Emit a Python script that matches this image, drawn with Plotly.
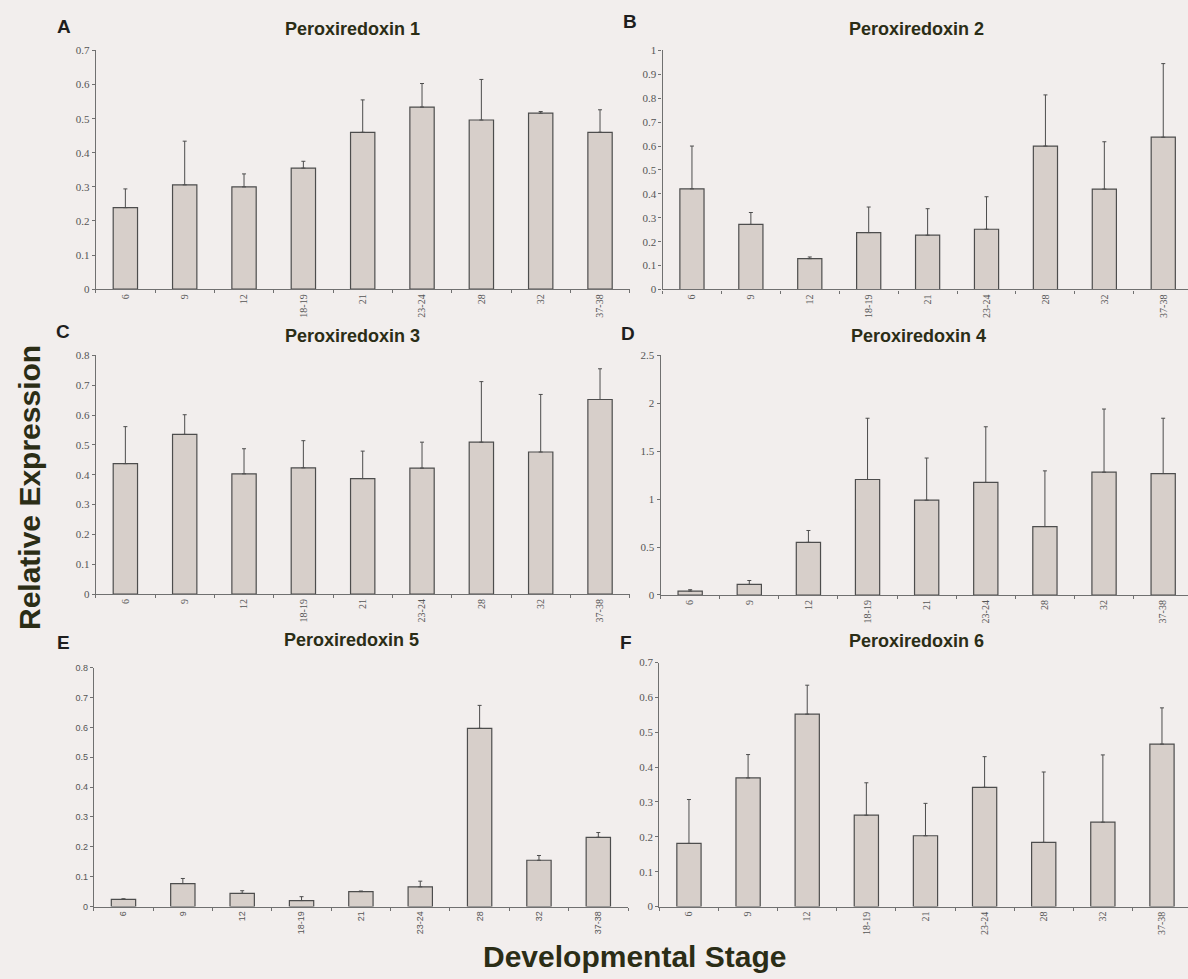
import plotly.graph_objects as go

stages = ["6", "9", "12", "18-19", "21", "23-24", "28", "32", "37-38"]

prx1_mean = [0.239, 0.306, 0.300, 0.355, 0.460, 0.534, 0.496, 0.516, 0.460]
prx1_err = [0.055, 0.128, 0.038, 0.020, 0.095, 0.069, 0.119, 0.005, 0.066]
prx2_mean = [0.421, 0.272, 0.129, 0.238, 0.227, 0.252, 0.600, 0.420, 0.637]
prx2_err = [0.179, 0.050, 0.007, 0.107, 0.111, 0.136, 0.214, 0.198, 0.308]
prx3_mean = [0.437, 0.535, 0.403, 0.423, 0.387, 0.422, 0.509, 0.476, 0.652]
prx3_err = [0.124, 0.066, 0.084, 0.091, 0.092, 0.087, 0.203, 0.193, 0.103]
prx4_mean = [0.041, 0.110, 0.549, 1.205, 0.989, 1.174, 0.714, 1.281, 1.267]
prx4_err = [0.014, 0.041, 0.124, 0.639, 0.440, 0.581, 0.581, 0.659, 0.577]
prx5_mean = [0.024, 0.077, 0.044, 0.020, 0.050, 0.066, 0.597, 0.155, 0.232]
prx5_err = [0.002, 0.017, 0.009, 0.013, 0.002, 0.019, 0.077, 0.016, 0.016]
prx6_mean = [0.181, 0.369, 0.552, 0.262, 0.203, 0.342, 0.184, 0.242, 0.466]
prx6_err = [0.126, 0.067, 0.083, 0.093, 0.093, 0.088, 0.202, 0.193, 0.104]

titles = ["Peroxiredoxin 1", "Peroxiredoxin 2", "Peroxiredoxin 3",
          "Peroxiredoxin 4", "Peroxiredoxin 5", "Peroxiredoxin 6"]
letters = ["A", "B", "C", "D", "E", "F"]
y_max = [0.7, 1.0, 0.8, 2.5, 0.8, 0.7]
y_step = [0.1, 0.1, 0.1, 0.5, 0.1, 0.1]

means = [prx1_mean, prx2_mean, prx3_mean, prx4_mean, prx5_mean, prx6_mean]
errs = [prx1_err, prx2_err, prx3_err, prx4_err, prx5_err, prx6_err]

W, H = 1188, 979
# pixel boxes: (x0, x1, y_bottom, y_top, x-range upper)
boxes = [
    (95.7, 629.7, 286.7, 45.0, 8.5),
    (662.5, 1188, 287.0, 45.0, 8.42),
    (95.7, 629.7, 595.3, 353.7, 8.5),
    (660.6, 1188, 596.3, 353.7, 8.42),
    (93.8, 628.0, 911.7, 670.0, 8.5),
    (659.4, 1188, 911.7, 664.7, 8.44),
]
title_pos = [(352, 23), (916, 23), (352, 334), (918, 334), (351, 642), (916, 643)]
letter_pos = [(64, 21), (630, 16), (63, 330), (628, 332), (63, 644), (626, 644)]

BG = "#f2eeed"
BAR = "#d7cfca"
EDGE = "#4d4d4d"
AXIS = "#707070"
TEXT = "#2b2d16"

fig = go.Figure()
layout = {}
annotations = []

for i in range(6):
    x0, x1, yb, yt, xr = boxes[i]
    sfx = "" if i == 0 else str(i + 1)
    sans_panel = (i == 4)
    fam = "Liberation Sans" if sans_panel else "Liberation Serif"
    fig.add_trace(go.Bar(
        x=stages, y=means[i],
        xaxis="x" + sfx, yaxis="y" + sfx,
        width=0.41,
        marker=dict(color=BAR, line=dict(color=EDGE, width=1.2)),
        error_y=dict(type="data", array=errs[i], symmetric=False,
                     arrayminus=[0] * len(stages),
                     color=EDGE, thickness=1, width=2),
        showlegend=False, hoverinfo="x+y",
    ))
    layout["xaxis" + sfx] = dict(
        domain=[x0 / W, x1 / W], anchor="y" + sfx,
        type="category", range=[-0.5, xr],
        showline=True, linecolor=AXIS, linewidth=1.2,
        ticks="outside", ticklen=3, tickcolor=AXIS, tickson="boundaries",
        tickangle=-90,
        tickfont=dict(family=fam, size=9 if sans_panel else 10, color="#555555"),
        showgrid=False, zeroline=False, fixedrange=True,
    )
    ticks = []
    v = 0.0
    while v <= y_max[i] + 1e-9:
        ticks.append(round(v, 2))
        v += y_step[i]
    layout["yaxis" + sfx] = dict(
        domain=[(H - yb) / H, (H - yt) / H], anchor="x" + sfx,
        range=[0, y_max[i]], tickvals=ticks,
        showline=True, linecolor=AXIS, linewidth=1.2,
        ticks="outside", ticklen=3, tickcolor=AXIS,
        tickfont=dict(family=fam, size=9 if sans_panel else 11, color="#555555"),
        showgrid=False, zeroline=False, fixedrange=True,
    )
    tx, ty = title_pos[i]
    annotations.append(dict(
        text="<b>" + titles[i] + "</b>", x=tx / W, y=(H - ty) / H,
        xref="paper", yref="paper", showarrow=False,
        xanchor="center", yanchor="middle",
        font=dict(family="Liberation Sans", size=18, color=TEXT),
    ))
    lx, ly = letter_pos[i]
    annotations.append(dict(
        text="<b>" + letters[i] + "</b>", x=lx / W, y=(H - ly) / H,
        xref="paper", yref="paper", showarrow=False,
        xanchor="center", yanchor="middle",
        font=dict(family="Liberation Sans", size=19, color="#1e1e1e"),
    ))

annotations.append(dict(
    text="<b>Relative Expression</b>", x=29 / W, y=(H - 488) / H,
    xref="paper", yref="paper", showarrow=False, textangle=-90,
    xanchor="center", yanchor="middle",
    font=dict(family="Liberation Sans", size=30, color=TEXT),
))
annotations.append(dict(
    text="<b>Developmental Stage</b>", x=634 / W, y=(H - 962) / H,
    xref="paper", yref="paper", showarrow=False,
    xanchor="center", yanchor="middle",
    font=dict(family="Liberation Sans", size=30, color=TEXT),
))

fig.update_layout(
    width=W, height=H,
    margin=dict(l=0, r=0, t=0, b=0),
    paper_bgcolor=BG, plot_bgcolor=BG,
    annotations=annotations,
    **layout,
)

fig.write_html("out.html", include_plotlyjs=True, full_html=True,
               config={"displayModeBar": False},
               post_script="document.body.style.margin='0';document.body.style.padding='0';")
